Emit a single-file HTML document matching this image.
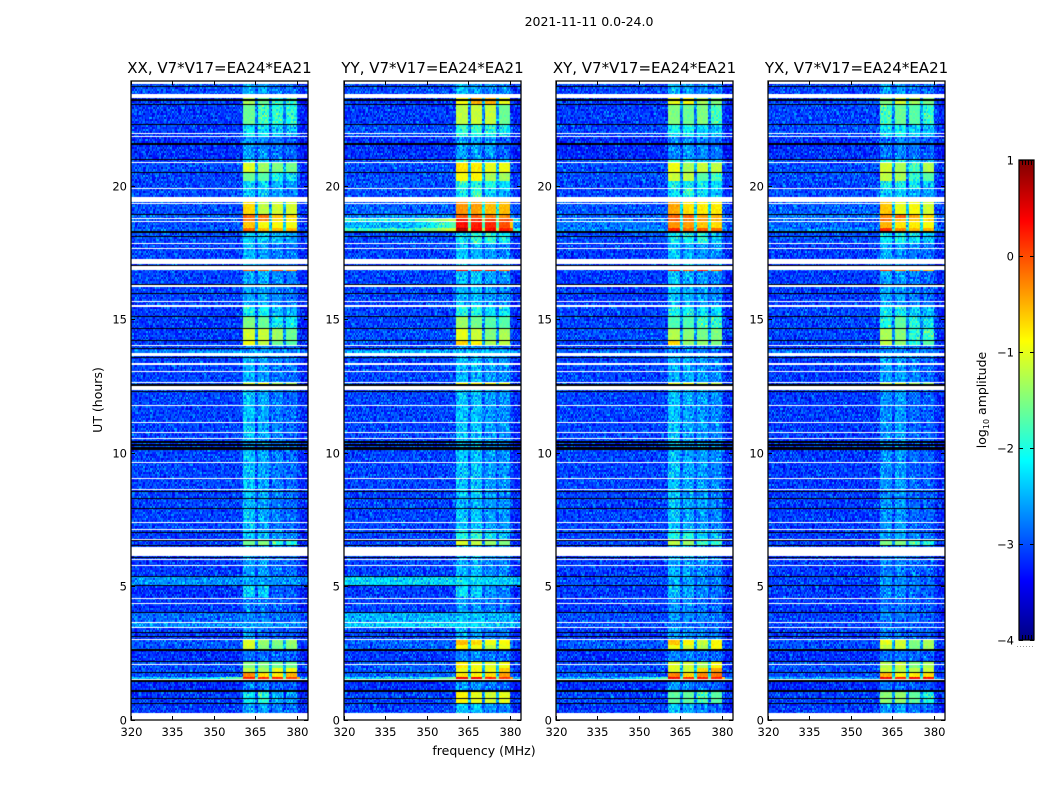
<!DOCTYPE html>
<html lang="en">
<head>
<meta charset="utf-8">
<title>2021-11-11 amplitude spectrograms</title>
<style>
  html, body { margin: 0; padding: 0; background: #fff; }
  #figure { position: relative; width: 1050px; height: 800px; overflow: hidden; background: #fff; }
  #figure canvas { position: absolute; top: 81px; display: block; }
  #overlay { position: absolute; left: 0; top: 0; }
  text { font-family: "DejaVu Sans", "Liberation Sans", sans-serif; fill: #000; }
</style>
</head>
<body>
<div id="figure">
  <svg id="overlay" width="1050" height="800" viewBox="0 0 1050 800">
    <text x="589" y="26" font-size="12.5" text-anchor="middle">2021-11-11 0.0-24.0</text>
    <text x="484" y="755" font-size="12.5" text-anchor="middle">frequency (MHz)</text>
    <text transform="translate(102,400) rotate(-90)" font-size="12.5" text-anchor="middle">UT (hours)</text>
    <text transform="translate(986,400) rotate(-90)" font-size="12.5" text-anchor="middle">log<tspan font-size="8" dy="3">10</tspan><tspan dy="-3"> amplitude</tspan></text>
  </svg>
</div>
<script>
// ---- chart data ----------------------------------------------------------
const panelTitles = ["XX, V7*V17=EA24*EA21", "YY, V7*V17=EA24*EA21", "XY, V7*V17=EA24*EA21", "YX, V7*V17=EA24*EA21"];
const freqTicks = [320, 335, 350, 365, 380];
const utTicks = [0, 5, 10, 15, 20];
const colorTicks = [1, 0, -1, -2, -3, -4];
const blockRangesMHz = [[360.6, 365], [365.8, 370], [370.8, 375], [375.8, 380]];

// Upper UT edge of each time segment (each segment ends at the next edge, the last at 0).
const segmentTopUT = [24.00, 23.36, 23.14, 22.38, 21.90, 21.07, 20.92, 20.58, 20.24, 19.94, 19.45, 19.00, 18.85, 18.72, 18.50, 18.33, 17.92, 16.94, 16.86, 15.55, 15.17, 14.72, 14.27, 14.05, 13.90, 13.78, 12.69, 12.58, 7.10, 6.76, 6.57, 5.37, 5.07, 4.62, 4.02, 3.68, 3.49, 3.04, 2.82, 2.63, 2.22, 1.95, 1.80, 1.61, 1.50, 1.46, 1.09, 0.64];

// log10 amplitude per segment: [background, block 1, block 2, block 3, block 4]
const levelsXX = [
[-3.0,-2.5,-2.6,-2.8,-2.85],[-3.1,-1.3,-1.6,-1.8,-1.9],[-3.1,-1.6,-1.8,-1.9,-1.95],[-3.1,-2.2,-2.2,-2.35,-2.4],[-3.15,-2.6,-2.65,-2.8,-2.9],
[-3.1,-2.3,-2.4,-2.6,-2.7],[-3.0,-1.05,-1.35,-1.5,-1.55],[-3.05,-1.6,-1.7,-2.1,-2.2],[-3.05,-2.3,-2.3,-2.45,-2.6],[-3.0,-2.4,-2.4,-2.6,-2.7],
[-3.0,-0.7,-1.2,-1.1,-1.1],[-2.9,-0.15,-0.2,-0.6,-0.7],[-3.0,-0.2,-0.3,-0.7,-0.8],[-3.0,-0.6,-0.9,-0.9,-0.95],[-2.9,-0.1,-0.55,-0.55,-0.55],[-3.0,-2.3,-2.3,-2.4,-2.6],
[-3.05,-2.45,-2.6,-2.75,-2.8],[-3.0,-0.1,-0.1,0,-0.3],[-3.05,-2.55,-2.5,-2.7,-2.8],[-3.1,-2.1,-2.1,-2.4,-2.5],[-3.1,-1.5,-1.6,-2.1,-2.1],
[-3.1,-1.1,-1.15,-1.35,-1.6],[-3.1,-0.95,-1.2,-1.6,-1.7],[-3.05,-2.7,-2.7,-2.8,-2.85],[-2.7,-2.6,-2.6,-2.65,-2.65],[-3.05,-2.5,-2.6,-2.75,-2.8],
[-3.0,-1.1,-0.9,-1.3,-1.3],[-3.05,-2.4,-2.55,-2.75,-2.85],[-3.1,-2.4,-2.4,-2.6,-2.7],[-3.1,-1.6,-1.5,-1.9,-2.0],[-3.1,-2.6,-2.6,-2.8,-2.85],
[-2.65,-2.55,-2.6,-2.65,-2.65],[-3.15,-2.3,-2.35,-2.9,-2.9],[-3.1,-2.75,-2.8,-2.9,-2.95],[-2.85,-2.75,-2.75,-2.8,-2.85],[-2.65,-2.6,-2.6,-2.65,-2.65],
[-3.1,-2.6,-2.8,-2.9,-2.95],[-2.95,-1.05,-1.4,-1.5,-1.4],[-2.95,-1.1,-1.5,-1.6,-1.45],[-3.15,-2.8,-2.8,-2.85,-2.9],[-3.0,-1.5,-1.5,-1.6,-1.6],
[-3.0,-1.2,-1.3,-0.95,-0.9],[-3.0,-0.3,-0.7,-0.75,-0.5],[-2.4,0.25,0.2,0.2,0.1],[-1.7,-1.4,-1.4,-1.4,-1.4],[-3.2,-2.7,-2.75,-2.9,-2.95],
[-3.1,-2.2,-1.9,-2.5,-2.6],[-3.1,-2.55,-2.6,-2.8,-2.85]];
const levelsYY = [
[-3.0,-2.4,-2.6,-2.7,-2.7],[-3.1,-0.9,-0.5,-0.5,-1.0],[-3.1,-1.2,-1.15,-1.15,-1.6],[-3.0,-1.9,-1.9,-2.0,-2.2],[-3.15,-2.6,-2.6,-2.6,-2.9],
[-3.0,-1.8,-2.1,-2.3,-2.4],[-3.0,-0.75,-0.8,-1.0,-0.95],[-3.0,-0.9,-0.85,-1.3,-1.35],[-3.0,-1.9,-2.0,-2.0,-2.3],[-3.0,-2.2,-1.8,-2.3,-2.5],
[-2.9,-0.35,-0.4,-0.55,-0.55],[-2.7,-0.05,-0.1,-0.2,-0.3],[-1.9,0.3,0.2,0.1,0.0],[-2.5,0.35,0.25,0.2,0.0],[-1.85,0.75,0.35,0.35,0.25],[-3.0,-2.2,-1.9,-1.9,-2.1],
[-3.05,-2.4,-2.5,-2.6,-2.7],[-3.0,0.35,0.3,0.35,-0.1],[-3.05,-2.45,-2.4,-2.6,-2.65],[-3.05,-2.0,-2.0,-2.3,-2.2],[-3.05,-1.35,-1.55,-1.7,-1.7],
[-3.0,-1.0,-1.15,-1.5,-1.3],[-3.0,-0.65,-0.85,-1.3,-1.2],[-3.05,-2.7,-2.7,-2.75,-2.8],[-2.5,-2.4,-2.4,-2.45,-2.45],[-3.05,-2.45,-2.45,-2.6,-2.65],
[-3.0,-0.9,-0.8,-0.9,-1.0],[-3.05,-2.4,-2.4,-2.6,-2.65],[-3.05,-2.0,-1.9,-2.2,-2.4],[-3.05,-1.05,-1.2,-1.4,-1.5],[-3.05,-2.5,-2.45,-2.65,-2.7],
[-2.3,-2.2,-2.25,-2.35,-2.35],[-3.1,-2.2,-2.3,-2.6,-2.7],[-3.05,-2.6,-2.65,-2.75,-2.8],[-2.5,-2.4,-2.4,-2.5,-2.5],[-2.35,-2.3,-2.3,-2.35,-2.4],
[-3.05,-2.5,-2.6,-2.75,-2.8],[-2.9,-0.55,-0.7,-0.95,-0.9],[-2.9,-0.85,-0.95,-1.2,-0.95],[-3.1,-2.7,-2.7,-2.8,-2.85],[-2.95,-0.8,-0.95,-1.05,-0.95],
[-2.95,-1.0,-0.9,-0.95,-0.6],[-2.9,-0.75,-0.85,-0.7,-0.4],[-2.3,0.45,0.45,0.2,0.15],[-2.2,-1.6,-1.6,-1.6,-1.6],[-3.15,-2.6,-2.65,-2.8,-2.85],
[-3.05,-0.85,-1.0,-1.1,-1.0],[-3.05,-2.4,-2.4,-2.65,-2.7]];
const levelsXY = [
[-3.05,-2.45,-2.6,-2.7,-2.75],[-3.1,-1.0,-0.9,-1.3,-1.5],[-3.1,-1.5,-1.6,-1.5,-1.8],[-3.05,-2.1,-2.1,-2.3,-2.4],[-3.2,-2.7,-2.6,-2.7,-2.8],
[-3.0,-1.9,-2.1,-2.3,-2.4],[-3.0,-0.95,-1.3,-1.15,-1.2],[-3.0,-1.15,-1.2,-1.7,-1.8],[-3.05,-2.1,-2.2,-2.2,-2.3],[-3.05,-2.2,-1.9,-2.2,-2.4],
[-2.95,-0.45,-0.75,-0.8,-0.8],[-2.9,-0.1,-0.15,-0.45,-0.5],[-2.8,-0.1,-0.2,-0.4,-0.5],[-2.8,-0.35,-0.4,-0.6,-0.7],[-2.7,0.2,-0.15,-0.05,-0.15],[-3.0,-2.2,-2.1,-2.0,-2.4],
[-3.1,-2.35,-2.5,-2.6,-2.65],[-3.0,0.3,-0.1,0.2,-0.1],[-3.1,-2.4,-2.5,-2.6,-2.7],[-3.05,-2.1,-2.1,-2.2,-2.3],[-3.05,-1.75,-1.75,-1.8,-1.9],
[-3.0,-1.25,-1.45,-1.55,-1.5],[-3.05,-0.7,-1.4,-1.4,-1.5],[-3.1,-2.7,-2.7,-2.8,-2.85],[-2.9,-2.7,-2.7,-2.8,-2.8],[-3.05,-2.5,-2.5,-2.6,-2.7],
[-3.0,-1.0,-0.9,-1.2,-1.2],[-3.05,-2.4,-2.55,-2.6,-2.7],[-3.05,-2.0,-1.95,-2.3,-2.4],[-3.05,-1.2,-1.35,-1.8,-1.9],[-3.1,-2.5,-2.55,-2.65,-2.75],
[-3.0,-2.5,-2.6,-2.7,-2.75],[-3.1,-2.4,-2.5,-2.7,-2.8],[-3.1,-2.65,-2.7,-2.8,-2.85],[-3.0,-2.65,-2.7,-2.75,-2.8],[-3.0,-2.7,-2.75,-2.8,-2.85],
[-3.1,-2.6,-2.7,-2.75,-2.8],[-2.95,-0.6,-0.85,-1.15,-0.85],[-2.95,-0.95,-1.1,-1.25,-0.9],[-3.15,-2.7,-2.7,-2.8,-2.85],[-3.0,-1.05,-1.15,-1.3,-0.9],
[-3.0,-1.05,-1.1,-0.7,-0.4],[-2.95,-0.25,-0.7,-0.3,-0.2],[-2.5,0.4,0.2,0.3,0.25],[-1.9,-1.5,-1.5,-1.5,-1.5],[-3.15,-2.6,-2.7,-2.8,-2.85],
[-3.05,-1.65,-1.65,-1.8,-1.7],[-3.1,-2.4,-2.5,-2.7,-2.8]];
const levelsYX = [
[-3.05,-2.55,-2.6,-2.8,-2.85],[-3.0,-1.5,-1.1,-1.3,-1.5],[-3.05,-1.8,-1.6,-1.7,-1.9],[-3.0,-2.2,-2.1,-2.3,-2.4],[-3.15,-2.8,-2.7,-2.8,-2.9],
[-3.0,-2.0,-2.1,-2.4,-2.5],[-3.0,-1.1,-1.3,-1.8,-1.25],[-3.0,-1.2,-1.3,-1.9,-1.7],[-3.05,-2.2,-2.2,-2.2,-2.4],[-3.0,-2.3,-2.3,-2.5,-2.6],
[-2.9,-0.6,-1.0,-0.9,-1.1],[-2.8,-0.3,-0.1,-0.5,-0.7],[-2.9,-0.2,-0.5,-0.6,-0.7],[-2.9,-0.5,-0.75,-0.8,-0.9],[-2.7,0.15,-0.3,-0.55,-0.5],[-3.0,-2.2,-2.1,-2.2,-2.4],
[-3.1,-2.5,-2.6,-2.75,-2.8],[-3.0,0.1,-0.2,-0.2,-0.5],[-3.1,-2.55,-2.6,-2.75,-2.85],[-3.05,-2.2,-2.1,-2.3,-2.4],[-3.05,-2.0,-1.65,-2.0,-2.2],
[-3.05,-1.3,-1.45,-1.95,-1.8],[-3.05,-1.2,-1.4,-1.9,-1.7],[-3.1,-2.75,-2.75,-2.85,-2.9],[-2.8,-2.7,-2.7,-2.8,-2.8],[-3.1,-2.6,-2.6,-2.75,-2.85],
[-3.0,-1.2,-1.1,-1.3,-1.4],[-3.1,-2.65,-2.6,-2.85,-2.9],[-3.1,-2.6,-2.5,-2.7,-2.8],[-3.1,-1.5,-1.5,-1.8,-2.0],[-3.1,-2.75,-2.7,-2.85,-2.9],
[-3.05,-2.6,-2.7,-2.8,-2.85],[-3.1,-2.7,-2.7,-2.8,-2.9],[-3.1,-2.8,-2.8,-2.9,-2.95],[-3.05,-2.75,-2.8,-2.85,-2.9],[-3.05,-2.8,-2.85,-2.9,-2.95],
[-3.1,-2.75,-2.8,-2.85,-2.9],[-3.0,-1.0,-1.1,-1.5,-1.3],[-3.0,-1.2,-1.15,-1.55,-1.35],[-3.15,-2.8,-2.8,-2.85,-2.9],[-3.0,-1.25,-1.15,-1.5,-1.3],
[-3.0,-1.15,-1.2,-1.2,-1.15],[-3.0,-0.5,-0.85,-0.8,-0.7],[-2.6,0.4,0.2,0.4,0.35],[-2.1,-1.7,-1.7,-1.7,-1.7],[-3.2,-2.8,-2.8,-2.9,-2.95],
[-3.05,-1.45,-1.4,-1.65,-2.0],[-3.1,-2.6,-2.55,-2.8,-2.85]];

// Flagged (blank) UT spans: [start, end] in hours
const blankSpansUT = [[23.87,24],[23.35,23.50],[22.02,22.06],[21.89,21.93],[20.93,20.97],[19.95,19.99],[19.47,19.65],[19.40,19.43],[18.82,18.86],[18.72,18.76],[17.88,17.92],[17.70,17.74],[17.11,17.31],[16.92,17.07],[16.28,16.32],[15.71,15.75],[15.53,15.57],[14.04,14.08],[13.67,13.78],[13.35,13.39],[13.06,13.10],[12.65,12.69],[12.39,12.54],[11.80,11.84],[11.16,11.20],[10.77,10.81],[10.56,10.60],[9.66,9.70],[9.06,9.10],[8.64,8.68],[7.41,7.45],[7.14,7.18],[6.77,6.81],[6.16,6.51],[6.00,6.05],[5.78,5.83],[4.55,4.59],[4.37,4.41],[3.65,3.69],[3.46,3.50],[3.02,3.06],[2.07,2.11],[1.51,1.55],[0,0.25]];
// Scans with no signal, drawn black: single-row and double-row UT values
const deadRowsUT = [23.81,23.14,22.38,21.07,20.57,19.00,18.18,17.09,16.36,16.03,15.17,14.71,14.27,13.97,13.63,12.34,10.49,10.45,10.38,10.34,10.26,10.21,10.17,8.61,8.33,7.95,7.05,6.76,6.57,6.12,5.41,5.06,4.05,3.29,3.14,2.23,1.81,0.84,0.63];
const thickDeadRowsUT = [23.30,21.62,18.33,12.60,2.63,1.45,1.09];
// Channel-to-channel amplitude residuals (tenths of a unit scale)
const residualsA = "3718264905517283904662190738452908163745219068374152608491735264018593726140857392615084729361508247936";
const residualsB = "82047159362846017395284061937520468193750264817395026481739205648371926450873162954073816294057318264905172";

// ---- scales ----------------------------------------------------------------
const panelLefts = [131, 344, 556, 768];
const panelLevels = [levelsXX, levelsYY, levelsXY, levelsYX];
const panelNames = ["xx", "yy", "xy", "yx"];
const plotWidth = 177, plotTop = 81, plotBottom = 720;
const freqMin = 320, freqMax = 384, utMax = 24;
const channelCount = 128, rowCount = 640;
const colorMin = -4, colorMax = 1;
const barLeft = 1019, barWidth = 15, barTop = 160, barBottom = 640;

function xScale(mhz, left) { return left + (mhz - freqMin) * plotWidth / (freqMax - freqMin); }
function yScale(ut) { return plotBottom - ut * (plotBottom - plotTop) / utMax; }
function yTickScale(ut) { return plotBottom - 0.5 - ut * 26.7; }
function colorY(v) { return barBottom - (v - colorMin) * (barBottom - barTop) / (colorMax - colorMin); }

function clamp01(v) { return Math.max(0, Math.min(1, v)); }
function jet(v) {
  const f = clamp01((v - colorMin) / (colorMax - colorMin));
  const r = clamp01(Math.min(4 * f - 1.5, -4 * f + 4.5));
  const g = clamp01(Math.min(4 * f - 0.5, -4 * f + 3.5));
  const b = clamp01(Math.min(4 * f + 0.5, -4 * f + 2.5));
  return "rgb(" + Math.round(r * 255) + "," + Math.round(g * 255) + "," + Math.round(b * 255) + ")";
}
const palette = [];
for (let i = 0; i <= 400; i++) palette.push(jet(colorMin + (colorMax - colorMin) * i / 400));
function paletteColor(v) {
  const i = Math.round(clamp01((v - colorMin) / (colorMax - colorMin)) * 400);
  return palette[i];
}

function segmentIndex(ut) {
  let idx = 0;
  for (let i = 0; i < segmentTopUT.length; i++) { if (ut <= segmentTopUT[i]) idx = i; }
  return idx;
}
function channelLevel(seg, mhz) {
  const bg = seg[0];
  let lowest = seg[1];
  for (let b = 0; b < blockRangesMHz.length; b++) {
    if (mhz >= blockRangesMHz[b][0] && mhz < blockRangesMHz[b][1]) return seg[b + 1];
    if (seg[b + 1] < lowest) lowest = seg[b + 1];
  }
  if (mhz >= blockRangesMHz[0][0] && mhz < blockRangesMHz[3][1]) return bg * 0.7 + lowest * 0.3;
  if (mhz >= 381) return bg - 0.15;
  if (bg > -2.6 && seg[1] > 0 && mhz > 345) return bg + (mhz - 345) / 15 * 0.8;
  return bg;
}

// ---- heatmaps ---------------------------------------------------------------
const figure = document.getElementById("figure");
const overlay = document.getElementById("overlay");
const SVGNS = "http://www.w3.org/2000/svg";

function drawHeatmap(panel) {
  const left = panelLefts[panel];
  const levels = panelLevels[panel];
  const canvas = document.createElement("canvas");
  
  
  canvas.width = plotWidth;
  canvas.height = plotBottom - plotTop;
  canvas.style.left = left + "px";
  figure.insertBefore(canvas, overlay);
  const ctx = canvas.getContext("2d");
  const chanHz = (freqMax - freqMin) / channelCount;
  const rowH = utMax / rowCount;
  for (let r = 0; r < rowCount; r++) {
    const utHigh = utMax - r * rowH, utLow = utHigh - rowH;
    const y0 = Math.round(yScale(utHigh)) - plotTop;
    const y1 = Math.round(yScale(utLow)) - plotTop;
    if (y1 <= y0) continue;
    const seg = levels[segmentIndex((utHigh + utLow) / 2)];
    const noiseRow = r >> 1;
    for (let c = 0; c < channelCount; c++) {
      const mhz = freqMin + (c + 0.5) * chanHz;
      const base = channelLevel(seg, mhz);
      const da = +residualsA[(c * 7 + noiseRow * 13 + panel * 29) % residualsA.length];
      const db = +residualsB[(c * 11 + noiseRow * 3 + panel * 17) % residualsB.length];
      const weight = base > -1.8 ? 0.25 : 1;
      const value = base + ((da + db) / 9 - 1) * 0.6 * weight;
      const x0 = Math.round(xScale(freqMin + c * chanHz, 0));
      const x1 = Math.round(xScale(freqMin + (c + 1) * chanHz, 0));
      ctx.fillStyle = paletteColor(value);
      ctx.fillRect(x0, y0, x1 - x0, y1 - y0);
    }
  }
  ctx.fillStyle = "#fff";
  blankSpansUT.forEach(function (s) {
    const top = Math.round(yScale(s[1])) - plotTop;
    const h = Math.max(1, Math.round(yScale(s[0])) - plotTop - top);
    ctx.fillRect(0, top, plotWidth, h);
  });
  ctx.fillStyle = "#000";
  deadRowsUT.forEach(function (ut) {
    ctx.fillRect(0, Math.round(yScale(ut)) - plotTop, plotWidth, 1);
  });
  thickDeadRowsUT.forEach(function (ut) {
    ctx.fillRect(0, Math.round(yScale(ut)) - plotTop - 1, plotWidth, 2);
  });
}

// ---- SVG helpers ------------------------------------------------------------
function svgLine(x1, y1, x2, y2, width) {
  const el = document.createElementNS(SVGNS, "line");
  el.setAttribute("x1", x1);
  el.setAttribute("y1", y1);
  el.setAttribute("x2", x2);
  el.setAttribute("y2", y2);
  el.setAttribute("stroke", "#000");
  el.setAttribute("stroke-width", width || 1);
  return el;
}
function svgText(x, y, str, size, anchor) {
  const el = document.createElementNS(SVGNS, "text");
  el.setAttribute("x", x);
  el.setAttribute("y", y);
  el.setAttribute("font-size", size);
  el.setAttribute("text-anchor", anchor);
  el.textContent = str;
  return el;
}

function drawAxes(panel) {
  const left = panelLefts[panel];
  const right = left + plotWidth;
  const name = panelNames[panel];

  const frame = document.createElementNS(SVGNS, "rect");
  
  
  frame.setAttribute("x", left);
  frame.setAttribute("y", plotTop);
  frame.setAttribute("width", plotWidth);
  frame.setAttribute("height", plotBottom - plotTop);
  frame.setAttribute("fill", "none");
  frame.setAttribute("stroke", "#000");
  frame.setAttribute("stroke-width", "1.25");
  overlay.appendChild(frame);

  const title = svgText(left + plotWidth / 2, 73, panelTitles[panel], 15, "middle");
  
  
  overlay.appendChild(title);

  freqTicks.forEach(function (f) {
    const x = Math.round(xScale(f, left)) + 0.5;
    const bottomTick = svgLine(x, plotBottom, x, plotBottom - 4);
    
    
    overlay.appendChild(bottomTick);
    const topTick = svgLine(x, plotTop, x, plotTop + 4);
    
    
    overlay.appendChild(topTick);
    const label = svgText(x, 736, String(f), 11.5, "middle");
    
    
    overlay.appendChild(label);
  });

  utTicks.forEach(function (u) {
    const y = Math.round(yTickScale(u)) + 0.5;
    const leftTick = svgLine(left, y, left + 4, y);
    
    
    overlay.appendChild(leftTick);
    const rightTick = svgLine(right, y, right - 4, y);
    
    
    overlay.appendChild(rightTick);
    const label = svgText(left - 4, y + 4, String(u), 11.5, "end");
    
    
    overlay.appendChild(label);
  });
}

function drawColorbar() {
  const group = document.createElementNS(SVGNS, "g");
  
  
  overlay.appendChild(group);
  const steps = 240;
  for (let i = 0; i < steps; i++) {
    const vLow = colorMin + (colorMax - colorMin) * i / steps;
    const vHigh = colorMin + (colorMax - colorMin) * (i + 1) / steps;
    const seg = document.createElementNS(SVGNS, "rect");
    
    
    seg.setAttribute("x", barLeft);
    seg.setAttribute("y", colorY(vHigh));
    seg.setAttribute("width", barWidth);
    seg.setAttribute("height", colorY(vLow) - colorY(vHigh) + 0.5);
    seg.setAttribute("fill", jet((vLow + vHigh) / 2));
    group.appendChild(seg);
  }
  const outline = document.createElementNS(SVGNS, "rect");
  
  
  outline.setAttribute("x", barLeft);
  outline.setAttribute("y", barTop);
  outline.setAttribute("width", barWidth);
  outline.setAttribute("height", barBottom - barTop);
  outline.setAttribute("fill", "none");
  outline.setAttribute("stroke", "#000");
  outline.setAttribute("stroke-width", "1.25");
  group.appendChild(outline);

  colorTicks.forEach(function (v) {
    const y = Math.round(colorY(v)) + 0.5;
    const a = svgLine(barLeft, y, barLeft + 4, y);
    
    
    group.appendChild(a);
    const b = svgLine(barLeft + barWidth, y, barLeft + barWidth - 4, y);
    
    
    group.appendChild(b);
    const label = svgText(barLeft - 5, y + 4, v < 0 ? "\u2212" + Math.abs(v) : String(v), 11.5, "end");
    
    
    group.appendChild(label);
  });

  for (let k = 1; k < 5; k++) {
    const x = barLeft + k * barWidth / 5 + 0.5;
    const t = svgLine(x, barTop, x, barTop + 5);
    
    
    group.appendChild(t);
    const u = svgLine(x, barBottom, x, barBottom - 5);
    
    
    group.appendChild(u);
  }

  const dots = svgLine(barLeft - 2, 646.5, barLeft + barWidth + 1, 646.5);
  
  
  dots.setAttribute("stroke", "#999");
  dots.setAttribute("stroke-dasharray", "1 2");
  group.appendChild(dots);
}

for (let p = 0; p < panelLefts.length; p++) {
  drawHeatmap(p);
  drawAxes(p);
}
drawColorbar();
</script>
</body>
</html>
